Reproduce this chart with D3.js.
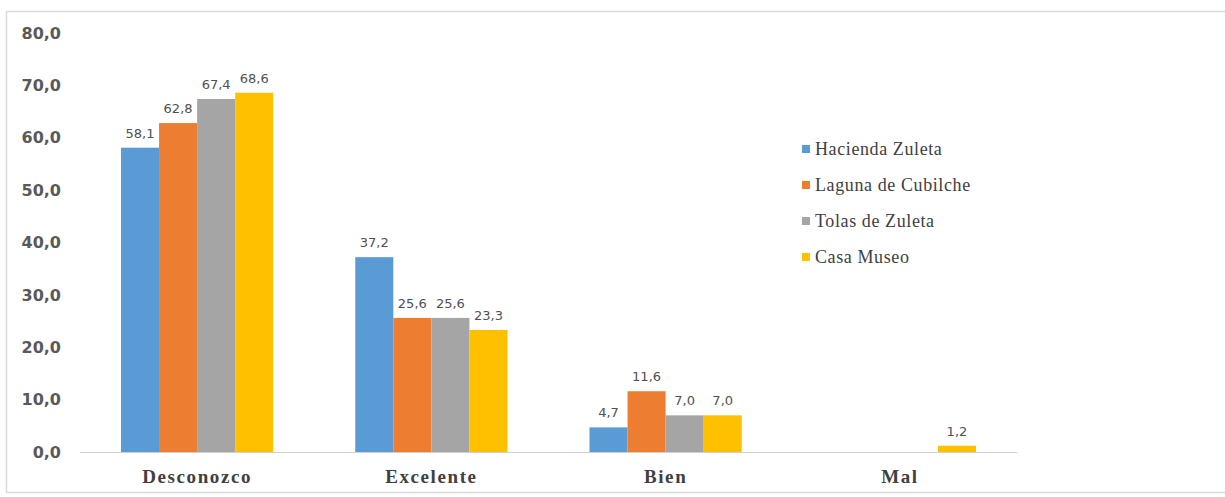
<!DOCTYPE html>
<html><head><meta charset="utf-8">
<script src="https://cdn.jsdelivr.net/npm/d3@7"></script>
<style>body{margin:0;background:#fff;}svg{display:block;}</style>
</head><body>
<svg id="chart" width="1225" height="497"></svg>
<script>
const categories = ["Desconozco", "Excelente", "Bien", "Mal"];
const seriesNames = ["Hacienda Zuleta", "Laguna de Cubilche", "Tolas de Zuleta", "Casa Museo"];
const haciendaZuleta = [58.1, 37.2, 4.7, null];
const lagunaCubilche = [62.8, 25.6, 11.6, null];
const tolasZuleta = [67.4, 25.6, 7.0, null];
const casaMuseo = [68.6, 23.3, 7.0, 1.2];
const yTicks = [0, 10, 20, 30, 40, 50, 60, 70, 80];
const colors = ["#5B9BD5", "#ED7D31", "#A5A5A5", "#FFC000"];

const series = [haciendaZuleta, lagunaCubilche, tolasZuleta, casaMuseo];
const svg = d3.select("#chart");
const fmt = v => v.toFixed(1).replace(".", ",");

// outer frame
svg.append("rect").attr("x", 6.5).attr("y", 11.5).attr("width", 1230).attr("height", 481)
  .attr("fill", "none").attr("stroke", "#d9d9d9").attr("stroke-width", 1.5);

const x = d3.scaleBand().domain(categories).range([80, 1017]).paddingInner(0.35).paddingOuter(0.175);
const xs = d3.scaleBand().domain(d3.range(4)).range([0, x.bandwidth()]);
const y = d3.scaleLinear().domain([0, 80]).range([452, 33]);

// y tick labels
const yAxis = d3.axisLeft(y).tickValues(yTicks).tickFormat(fmt).tickSize(0).tickPadding(0);
const ga = svg.append("g").attr("transform", "translate(61,0)").call(yAxis);
ga.select(".domain").remove();
ga.selectAll("text").attr("font-family", "'DejaVu Sans', Verdana, sans-serif")
  .attr("font-size", 16).attr("font-weight", "bold").attr("fill", "#595959");

// bars
const groups = svg.append("g").selectAll("g").data(categories).join("g")
  .attr("transform", c => `translate(${x(c)},0)`);
series.forEach((s, si) => {
  groups.each(function(c, ci) {
    const v = s[ci];
    if (v == null) return;
    const g = d3.select(this);
    g.append("rect").attr("x", xs(si)).attr("y", y(v)).attr("width", xs.bandwidth())
      .attr("height", y(0) - y(v)).attr("fill", colors[si]);
    g.append("text").attr("x", xs(si) + xs.bandwidth() / 2).attr("y", y(v) - 10)
      .attr("text-anchor", "middle").attr("font-family", "'DejaVu Sans', 'Liberation Sans', sans-serif")
      .attr("font-size", 13).attr("fill", "#505050").text(fmt(v));
  });
});

// baseline
const xAxis = d3.axisBottom(x).tickSize(0).tickPadding(18);
const gx = svg.append("g").attr("transform", `translate(0,${y(0)})`).call(xAxis);
gx.select(".domain").attr("stroke", "#d0d0d0").attr("stroke-width", 1.2).attr("d", "M80,0.5H1017");
gx.selectAll("text").attr("font-family", "'Liberation Serif', 'Times New Roman', serif")
  .attr("font-size", 19).attr("font-weight", "bold").attr("letter-spacing", 1.6).attr("fill", "#404040");

// legend
const leg = svg.append("g").attr("transform", "translate(802,0)");
const ly = [149, 185, 221, 257];
seriesNames.forEach((n, i) => {
  leg.append("rect").attr("x", 0).attr("y", ly[i] - 4).attr("width", 8).attr("height", 8).attr("fill", colors[i]);
  leg.append("text").attr("x", 13).attr("y", ly[i] + 6).attr("font-family", "'Liberation Serif', 'Times New Roman', serif")
    .attr("font-size", 18).attr("letter-spacing", 0.6).attr("fill", "#404040").text(n);
});
</script>
</body></html>
